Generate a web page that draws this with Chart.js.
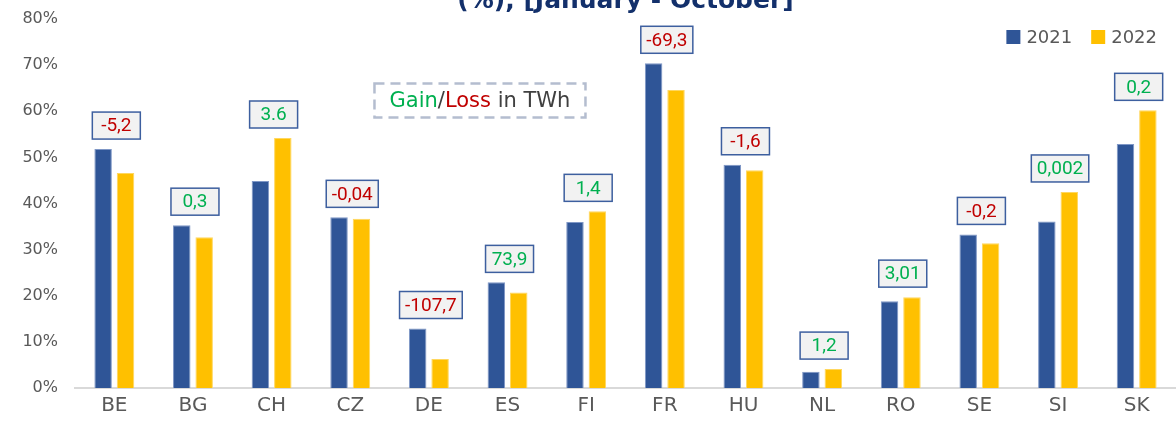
<!DOCTYPE html>
<html>
<head>
<meta charset="utf-8">
<script src="https://cdn.jsdelivr.net/npm/chart.js@4"></script>
<style>
  html, body { margin: 0; padding: 0; background: #fff; }
  #wrap { width: 1176px; height: 423px; }
</style>
</head>
<body>
<div id="wrap"><canvas id="myChart" width="1176" height="423"></canvas></div>
<script>
const categories = ['BE', 'BG', 'CH', 'CZ', 'DE', 'ES', 'FI', 'FR', 'HU', 'NL', 'RO', 'SE', 'SI', 'SK'];
const share2021 = [51.8, 35.3, 44.9, 37.0, 12.9, 22.9, 36.0, 70.4, 48.4, 3.5, 18.8, 33.3, 36.1, 52.9];
const share2022 = [46.6, 32.7, 54.2, 36.7, 6.3, 20.7, 38.3, 64.6, 47.2, 4.1, 19.7, 31.4, 42.5, 60.2];
const gainLoss = ['-5,2', '0,3', '3.6', '-0,04', '-107,7', '73,9', '1,4', '-69,3', '-1,6', '1,2', '3,01', '-0,2', '0,002', '0,2'];
const seriesNames = ['2021', '2022'];
const yTicks = [0, 10, 20, 30, 40, 50, 60, 70, 80];

const BLUE = '#2f5597';
const YELLOW = '#ffc000';

// title line (upper line is cut off at the top of the picture)
const titlePlugin = {
  id: 'titleLine',
  afterDraw(chart) {
    const { ctx, chartArea } = chart;
    ctx.save();
    ctx.font = 'bold 25px "DejaVu Sans"';
    ctx.fillStyle = '#13306b';
    ctx.textAlign = 'center';
    ctx.textBaseline = 'alphabetic';
    ctx.fillText('(%), [January - October]', (chartArea.left + chartArea.right) / 2, 8);
    ctx.restore();
  }
};

// legend drawn inside the plot area, top right
const legendPlugin = {
  id: 'innerLegend',
  afterDraw(chart) {
    const { ctx, chartArea } = chart;
    ctx.save();
    ctx.font = '18px "DejaVu Sans"';
    ctx.textBaseline = 'middle';
    const sq = 14, gap = 6, between = 19;
    const widths = seriesNames.map(n => ctx.measureText(n).width);
    let total = 0;
    widths.forEach((w, i) => { total += sq + gap + w + (i ? between : 0); });
    let x = chartArea.right - 19 - total;
    const yc = 37;
    chart.data.datasets.forEach((ds, i) => {
      ctx.fillStyle = ds.backgroundColor;
      ctx.fillRect(x, yc - sq / 2, sq, sq);
      x += sq + gap;
      ctx.fillStyle = '#595959';
      ctx.fillText(ds.label, x, yc + 1);
      x += widths[i] + between;
    });
    ctx.restore();
  }
};

// boxed gain / loss labels above each pair of bars + note box
const boxLabels = {
  id: 'boxLabels',
  afterDatasetsDraw(chart) {
    const { ctx, chartArea, scales: { x, y } } = chart;
    ctx.save();
    categories.forEach((c, i) => {
      const top = y.getPixelForValue(Math.max(share2021[i], share2022[i]));
      const cx = x.getPixelForValue(i) + 2;
      ctx.font = '19px Roboto';
      const tw = ctx.measureText(gainLoss[i]).width;
      const w = Math.max(48, tw + 11), h = 27;
      const bx = cx - w / 2, by = top - 10 - h;
      ctx.fillStyle = '#f2f2f2';
      ctx.fillRect(bx, by, w, h);
      ctx.strokeStyle = '#3d5f9f';
      ctx.lineWidth = 1.5;
      ctx.strokeRect(bx, by, w, h);
      ctx.fillStyle = gainLoss[i].startsWith('-') ? '#c00000' : '#00b050';
      ctx.textAlign = 'center';
      ctx.textBaseline = 'middle';
      ctx.fillText(gainLoss[i], cx, by + h / 2 + 1);
    });

    // "Gain/Loss in TWh" note
    const nx = chartArea.left + (chartArea.right - chartArea.left) * 0.272;
    const nw = 211, nh = 34;
    const ny = y.getPixelForValue(66);
    ctx.setLineDash([10, 6]);
    ctx.strokeStyle = '#b4bdcf';
    ctx.lineWidth = 2.5;
    ctx.strokeRect(nx, ny, nw, nh);
    ctx.setLineDash([]);
    ctx.font = '21px "DejaVu Sans"';
    ctx.textAlign = 'left';
    ctx.textBaseline = 'middle';
    const parts = [['Gain', '#00b050'], ['/', '#404040'], ['Loss', '#c00000'], [' in TWh', '#404040']];
    const full = parts.map(p => p[0]).join('');
    let tx = nx + (nw - ctx.measureText(full).width) / 2;
    parts.forEach(p => {
      ctx.fillStyle = p[1];
      ctx.fillText(p[0], tx, ny + nh / 2 + 1);
      tx += ctx.measureText(p[0]).width;
    });
    ctx.restore();
  }
};

const grafico = document.querySelector('#myChart');

const data = {
  labels: categories,
  datasets: [
    {
      label: seriesNames[0],
      data: share2021,
      backgroundColor: BLUE,
      borderColor: '#7f97c6',
      borderWidth: 1
    },
    {
      label: seriesNames[1],
      data: share2022,
      backgroundColor: YELLOW,
      borderColor: '#ffd75e',
      borderWidth: 1
    }
  ]
};

const config = {
  type: 'bar',
  data: data,
  options: {
    responsive: false,
    animation: false,
    layout: { padding: { top: 19, left: 0, right: 0, bottom: 0 } },
    datasets: {
      bar: { barPercentage: 0.78, categoryPercentage: 0.57 }
    },
    plugins: {
      legend: { display: false },
      tooltip: { enabled: false }
    },
    scales: {
      x: {
        grid: { display: false, drawTicks: false },
        border: { color: '#d9d9d9', width: 2 },
        ticks: { color: '#595959', font: { family: 'DejaVu Sans', size: 20 }, padding: 6 },
        afterFit(s) { s.height = 35; }
      },
      y: {
        min: 0,
        max: 80,
        afterBuildTicks(s) { s.ticks = yTicks.map(v => ({ value: v })); },
        ticks: {
          color: '#595959',
          font: { family: 'DejaVu Sans', size: 16 },
          padding: 17,
          callback: v => v + '%'
        },
        grid: { display: false, drawTicks: false },
        border: { display: false },
        afterFit(s) {
          s.width = 75;
          s.paddingTop = 0;
          s.paddingBottom = 0;
        }
      }
    }
  },
  plugins: [titlePlugin, legendPlugin, boxLabels]
};

new Chart(grafico, config);
</script>
</body>
</html>
